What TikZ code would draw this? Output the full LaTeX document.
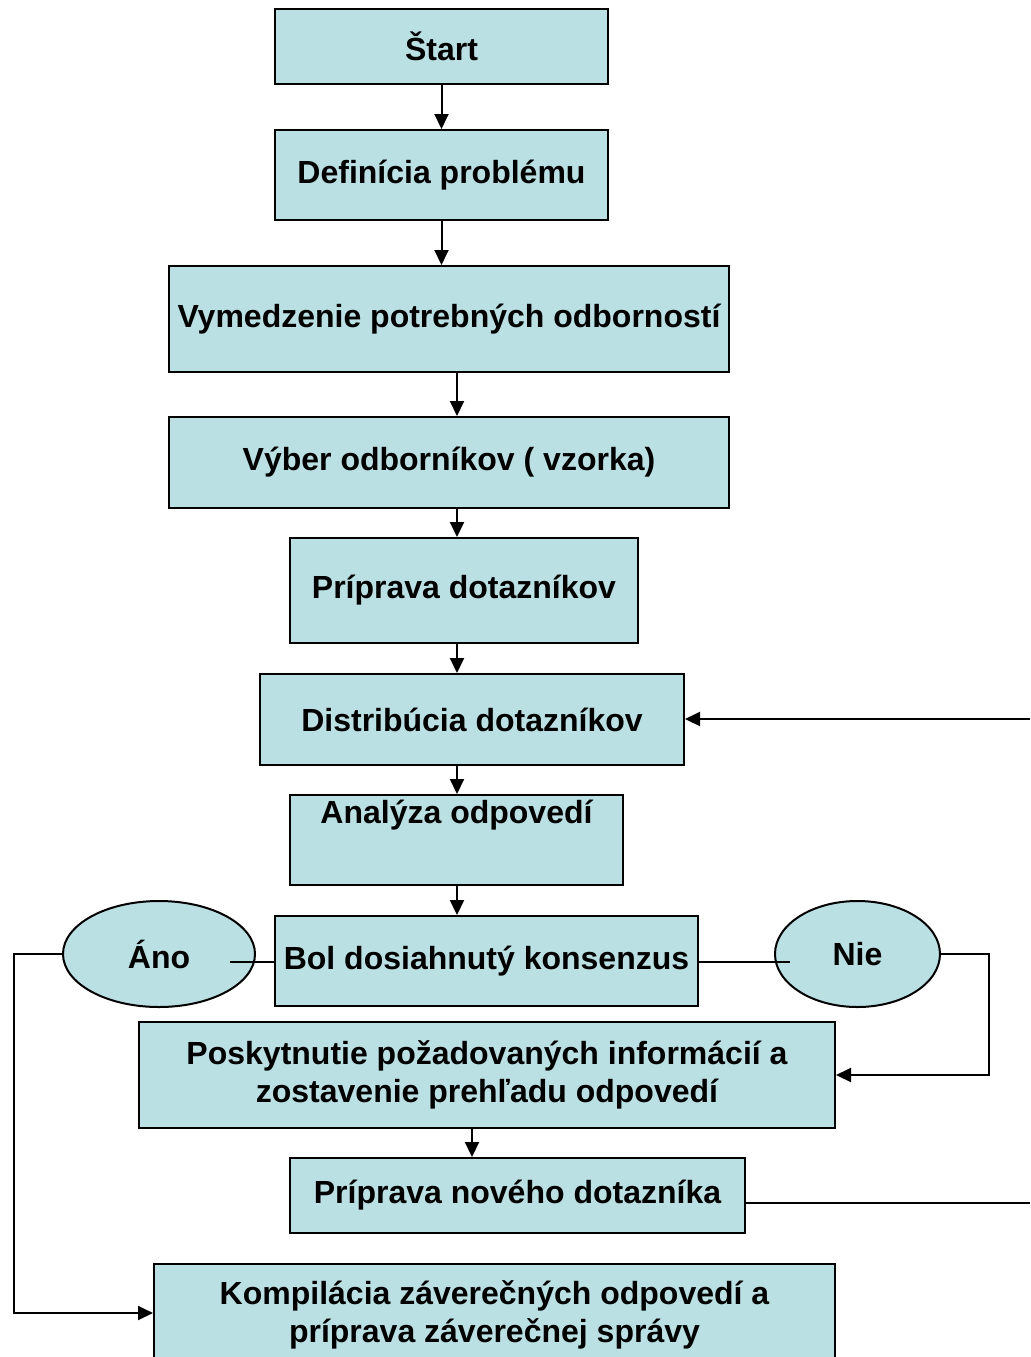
\documentclass[tikz,border=0pt]{standalone}
\usepackage{fontspec}
\setmainfont{Liberation Sans}
\usetikzlibrary{arrows.meta,shapes.geometric}
\definecolor{boxfill}{RGB}{187,224,227}
\begin{document}
\begin{tikzpicture}[x=0.5pt, y=-0.5pt,
    krok/.style={draw, line width=1pt, fill=boxfill, inner sep=2pt, align=center,
        font=\fontsize{16}{19}\selectfont\bfseries},
    volba/.style={krok, ellipse, inner sep=0pt},
    spoj/.style={line width=1pt},
    sipka/.style={spoj, -{Triangle[length=7.5pt, width=7pt]}}]
\clip (0,0) rectangle (1030,1357);

\node [krok, minimum width=166.5pt, minimum height=37.5pt] (start) at (441.5, 46.5) {Štart};
\node [krok, minimum width=166.5pt, minimum height=45pt] (definicia) at (441.5, 175) {Definícia problému};
\node [krok, minimum width=280pt, minimum height=53pt] (vymedzenie) at (449, 319) {Vymedzenie potrebných odborností};
\node [krok, minimum width=280pt, minimum height=45.5pt] (vyber) at (449, 462.5) {Výber odborníkov ( vzorka)};
\node [krok, minimum width=174pt, minimum height=52.5pt] (priprava) at (464, 590.5) {Príprava dotazníkov};
\node [krok, minimum width=212pt, minimum height=45.5pt] (distribucia) at (472, 719.5) {Distribúcia dotazníkov};
\node [krok, minimum width=166.5pt, inner ysep=0pt, text height=14pt, text depth=31pt] (analyza) at (456.5, 840) {Analýza odpovedí};
\node [krok, minimum width=211.5pt, minimum height=45pt] (konsenzus) at (486.5, 961) {Bol dosiahnutý konsenzus};
\node [volba, minimum width=96pt, minimum height=53pt] (ano) at (159, 954) {Áno};
\node [volba, minimum width=82.5pt, minimum height=53pt] (nie) at (857.5, 954) {Nie};
\node [krok, minimum width=348pt, minimum height=53pt] (poskytnutie) at (487, 1075) {Poskytnutie požadovaných informácií a\\zostavenie prehľadu odpovedí};
\node [krok, minimum width=227.5pt, minimum height=37.5pt] (novy) at (517.5, 1195.5) {Príprava nového dotazníka};
\node [krok, minimum width=340.5pt, minimum height=51pt] (kompilacia) at (494.5, 1315) {Kompilácia záverečných odpovedí a\\príprava záverečnej správy};

\coordinate (os) at (457, 0);
\coordinate (os2) at (472, 0);
\coordinate (anovnutri) at (230, 962);
\coordinate (nievnutri) at (790, 962);
\coordinate (spatvon) at (1030, 1203);
\coordinate (spatdnu) at (1030, 719);

\draw [sipka] (start) -- (definicia);
\draw [sipka] (definicia.south) -- (definicia.south |- vymedzenie.north);
\draw [sipka] (vymedzenie.south -| os) -- (vyber.north -| os);
\draw [sipka] (vyber.south -| os) -- (priprava.north -| os);
\draw [sipka] (priprava.south -| os) -- (distribucia.north -| os);
\draw [sipka] (distribucia.south -| os) -- (analyza.north -| os);
\draw [sipka] (analyza.south -| os) -- (konsenzus.north -| os);
\draw [sipka] (poskytnutie.south -| os2) -- (novy.north -| os2);

\draw [spoj] (konsenzus.west |- anovnutri) -- (anovnutri);
\draw [spoj] (konsenzus.east |- nievnutri) -- (nievnutri);
\draw [sipka] (nie.east) -- ++(48,0) |- (poskytnutie.east);
\draw [sipka] (ano.west) -- ++(-48,0) |- ([yshift=1pt]kompilacia.west);

\draw [spoj] (novy.east |- spatvon) -- (spatvon);
\draw [sipka] (spatdnu) -- (distribucia.east |- spatdnu);

\end{tikzpicture}
\end{document}
